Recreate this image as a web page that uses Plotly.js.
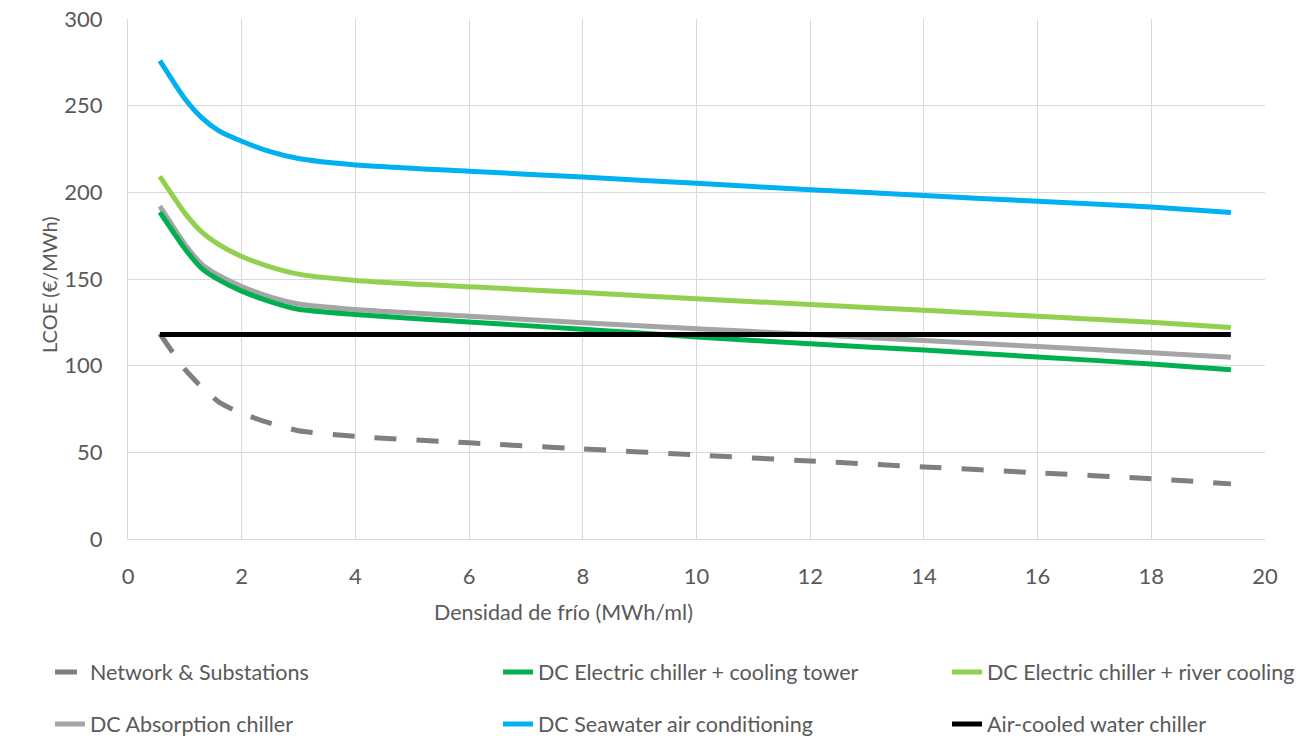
<!DOCTYPE html>
<html>
<head>
<meta charset="utf-8">
<script src="https://cdn.plot.ly/plotly-3.0.1.min.js"></script>
<style>html,body{margin:0;padding:0;background:#fff;}#chart{width:1301px;height:738px;}</style>
</head>
<body>
<div id="chart"></div>
<script>
// Densidad de frío (MWh/ml)
const density = [0.56, 1.0, 1.3, 1.6, 2.0, 2.5, 3.0, 4, 6, 8, 10, 12, 14, 16, 18, 19.4];
// LCOE (€/MWh)
const networkSubstations = [118.4, 98, 87.5, 79, 72.5, 66.8, 62.5, 59.2, 55.5, 52, 48.5, 45, 41.6, 38.2, 34.8, 31.8];
const coolingTower      = [188.6, 167.5, 156, 149.5, 143, 137, 132.5, 129.5, 125.2, 121, 116.6, 112.6, 109, 105, 101, 97.6];
const riverCooling      = [209.2, 188, 177, 169.8, 163, 157, 152.8, 149.2, 145.5, 142.2, 138.6, 135.3, 131.9, 128.5, 125, 122];
const absorption        = [192, 170, 158.5, 152, 145.7, 139.7, 135.6, 132.4, 128.5, 124.8, 121.3, 118, 114.5, 111, 107.5, 104.9];
const seawater          = [276, 254, 243, 235.5, 229.5, 223.5, 219.5, 215.8, 212.2, 208.8, 205.2, 201.5, 198.2, 194.8, 191.5, 188.4];
const airCooledX = [0.56, 19.4];
const airCooled  = [118, 118];

const names = [
  "Network & Substations",
  "DC Electric chiller + cooling tower",
  "DC Electric chiller + river cooling",
  "DC Absorption chiller",
  "DC Seawater air conditioning",
  "Air-cooled water chiller"
];
const xTickVals = [0, 2, 4, 6, 8, 10, 12, 14, 16, 18, 20];
const yTickVals = [0, 50, 100, 150, 200, 250, 300];

const FONT = "Lato, 'Open Sans', sans-serif";
const TXT = "#595959";
const LW = 5;

function tr(name, x, y, color, legend, dash) {
  return {
    type: "scatter", mode: "lines", name: name, x: x, y: y,
    legend: legend,
    line: {color: color, width: LW, shape: "spline", smoothing: 0.6, dash: dash || "solid"},
    hoverinfo: "x+y+name"
  };
}

const tNet   = tr(names[0], density, networkSubstations, "#7F7F7F", "legend", "22px,20px");
const tTower = tr(names[1], density, coolingTower, "#00B050", "legend2");
const tRiver = tr(names[2], density, riverCooling, "#92D050", "legend3");
const tAbs   = tr(names[3], density, absorption, "#A5A5A5", "legend4");
const tSea   = tr(names[4], density, seawater, "#00B0F0", "legend5");
const tAir   = tr(names[5], airCooledX, airCooled, "#000000", "legend6");
const traces = [tNet, tSea, tRiver, tAbs, tTower, tAir];

const colX = [50, 498, 947];     // px: legend box left for the three columns
const rowY = [672, 724];         // px: legend row centres
function leg(col, row) {
  return {
    orientation: "v", xanchor: "left", yanchor: "middle",
    xref: "container", yref: "container",
    x: colX[col] / 1301, y: 1 - rowY[row] / 738,
    font: {family: FONT, size: 21.5, color: TXT},
    bgcolor: "rgba(0,0,0,0)", borderwidth: 0
  };
}

const layout = {
  width: 1301, height: 738,
  margin: {l: 128, r: 36, t: 19, b: 199, autoexpand: false},
  paper_bgcolor: "#ffffff", plot_bgcolor: "#ffffff",
  font: {family: FONT, color: TXT},
  showlegend: true,
  xaxis: {
    range: [0, 20], tickvals: xTickVals, ticktext: xTickVals.map(String),
    showgrid: true, gridcolor: "#D9D9D9", gridwidth: 1,
    zeroline: false, showline: true, linecolor: "#D9D9D9", linewidth: 1,
    ticks: "", ticklabelstandoff: 18, automargin: false,
    tickfont: {family: FONT, size: 22, color: TXT}
  },
  yaxis: {
    range: [0, 300], tickvals: yTickVals, ticktext: yTickVals.map(String),
    showgrid: true, gridcolor: "#D9D9D9", gridwidth: 1,
    zeroline: false, showline: true, linecolor: "#D9D9D9", linewidth: 1,
    ticks: "", ticklabelstandoff: 20, automargin: false,
    tickfont: {family: FONT, size: 22, color: TXT}
  },
  legend: leg(0, 0),
  legend2: leg(1, 0),
  legend3: leg(2, 0),
  legend4: leg(0, 1),
  legend5: leg(1, 1),
  legend6: leg(2, 1),
  annotations: [
    {text: "Densidad de frío (MWh/ml)", xref: "paper", yref: "paper",
     x: (563 - 128) / 1137, y: (539 - 612) / 520, xanchor: "center", yanchor: "middle", showarrow: false,
     font: {family: FONT, size: 21.5, color: TXT}},
    {text: "LCOE (€/MWh)", xref: "paper", yref: "paper", textangle: -90,
     x: (49 - 128) / 1137, y: (539 - 285) / 520, xanchor: "center", yanchor: "middle", showarrow: false,
     font: {family: FONT, size: 20, color: TXT}}
  ]
};

Plotly.newPlot("chart", traces, layout, {displayModeBar: false, staticPlot: true});
</script>
</body>
</html>
